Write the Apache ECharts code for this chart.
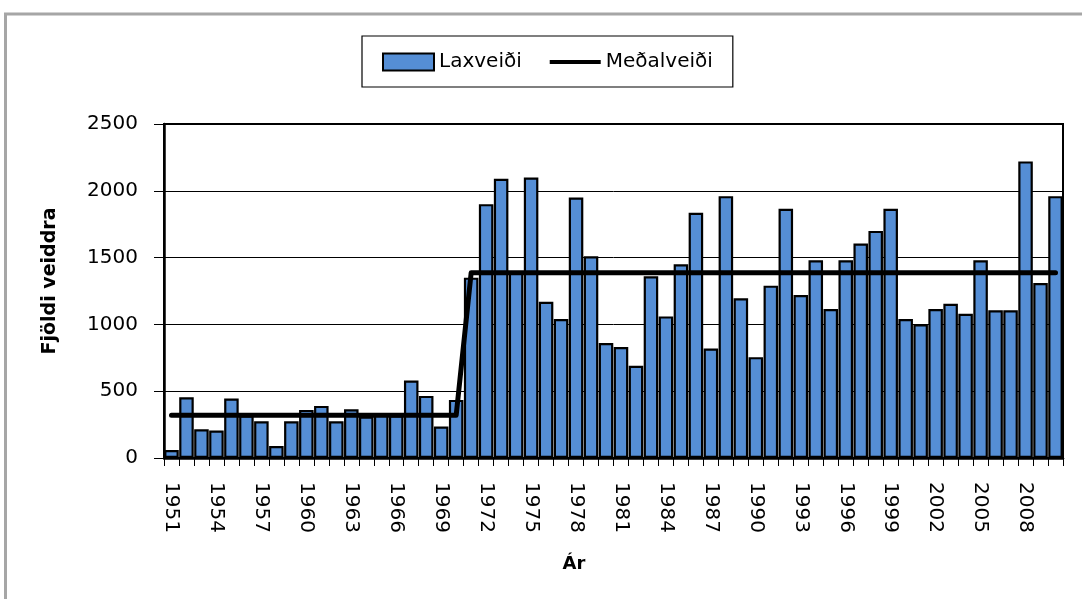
<!DOCTYPE html>
<html>
<head>
<meta charset="utf-8">
<script src="https://cdn.jsdelivr.net/npm/echarts@6/dist/echarts.min.js"></script>
<style>
html,body{margin:0;padding:0;background:#fff;}
#chart{width:1082px;height:599px;}
</style>
</head>
<body>
<div id="chart"></div>
<script>
const years = ['1951','1952','1953','1954','1955','1956','1957','1958','1959','1960',
  '1961','1962','1963','1964','1965','1966','1967','1968','1969','1970',
  '1971','1972','1973','1974','1975','1976','1977','1978','1979','1980',
  '1981','1982','1983','1984','1985','1986','1987','1988','1989','1990',
  '1991','1992','1993','1994','1995','1996','1997','1998','1999','2000',
  '2001','2002','2003','2004','2005','2006','2007','2008','2009','2010'];

const laxveidi = [60,455,215,205,445,320,275,90,275,360,
  390,275,365,310,325,320,580,465,235,435,
  1350,1900,2090,1390,2100,1170,1040,1950,1510,860,
  830,690,1360,1060,1450,1835,820,1960,1195,755,
  1290,1865,1220,1480,1115,1480,1605,1700,1865,1040,
  1000,1115,1155,1080,1480,1105,1105,2220,1310,1960];

const medalveidi = [320,320,320,320,320,320,320,320,320,320,
  320,320,320,320,320,320,320,320,320,320,
  1387,1387,1387,1387,1387,1387,1387,1387,1387,1387,
  1387,1387,1387,1387,1387,1387,1387,1387,1387,1387,
  1387,1387,1387,1387,1387,1387,1387,1387,1387,1387,
  1387,1387,1387,1387,1387,1387,1387,1387,1387,1387];

const seriesNames = ['Laxveiði', 'Meðalveiði'];
const yAxisTitle = 'Fjöldi veiddra';
const xAxisTitle = 'Ár';

const chart = echarts.init(document.getElementById('chart'), null, {renderer: 'canvas'});
const tickFont = 'DejaVu Sans';

chart.setOption({
  animation: false,
  backgroundColor: '#ffffff',
  graphic: [{
    type: 'rect',
    shape: {x: 5.5, y: 14, width: 1300, height: 800},
    style: {fill: null, stroke: '#A6A6A6', lineWidth: 3},
    silent: true,
    z: -10
  }],
  legend: {
    left: 362,
    top: 36,
    orient: 'horizontal',
    backgroundColor: '#fff',
    borderColor: '#000',
    borderWidth: 1.2,
    padding: [16, 20, 15, 20],
    itemWidth: 51,
    itemHeight: 17,
    itemGap: 28,
    textStyle: {fontFamily: tickFont, fontSize: 20, color: '#000'},
    data: [
      {name: seriesNames[0], icon: 'rect', itemStyle: {borderWidth: 2, borderColor: '#000'}},
      {name: seriesNames[1], icon: 'path://M0,0 L51,0 L51,4 L0,4 Z', itemStyle: {color: '#000', borderWidth: 0}}
    ]
  },
  grid: {
    left: 164,
    right: 19,
    top: 124,
    bottom: 141,
    show: true,
    borderColor: '#000',
    borderWidth: 2,
    backgroundColor: 'transparent'
  },
  xAxis: {
    type: 'category',
    data: years,
    boundaryGap: true,
    name: xAxisTitle,
    nameLocation: 'middle',
    nameGap: 97,
    nameTextStyle: {fontFamily: tickFont, fontSize: 18, fontWeight: 'bold', color: '#000', padding: [0, 79, 0, 0]},
    axisLine: {lineStyle: {color: '#000', width: 2.5}},
    axisTick: {show: true, interval: 0, length: 8, lineStyle: {color: '#000', width: 1}},
    axisLabel: {interval: 2, rotate: -90, margin: 24, fontFamily: tickFont, fontSize: 20, color: '#000'},
    splitLine: {show: false}
  },
  yAxis: {
    type: 'value',
    min: 0,
    max: 2500,
    interval: 500,
    name: yAxisTitle,
    nameLocation: 'middle',
    nameGap: 104,
    nameRotate: 90,
    nameTextStyle: {fontFamily: tickFont, fontSize: 19, fontWeight: 'bold', color: '#000', padding: [0, 0, 0, 20]},
    axisLine: {show: true, lineStyle: {color: '#000', width: 2.5}},
    axisTick: {show: true, length: 10, lineStyle: {color: '#000', width: 1}},
    axisLabel: {margin: 26, fontFamily: tickFont, fontSize: 20, color: '#000', formatter: function (v) { return String(v); }},
    splitLine: {show: true, lineStyle: {color: '#000', width: 1}}
  },
  series: [
    {
      name: seriesNames[0],
      type: 'bar',
      data: laxveidi,
      barCategoryGap: '3%',
      itemStyle: {color: '#558ED5', borderColor: '#000', borderWidth: 2.2},
      z: 2
    },
    {
      name: seriesNames[1],
      type: 'line',
      data: medalveidi,
      symbol: 'none',
      showSymbol: false,
      lineStyle: {color: '#000', width: 5, cap: 'round', join: 'round'},
      itemStyle: {color: '#000'},
      z: 3
    }
  ]
});
</script>
</body>
</html>
